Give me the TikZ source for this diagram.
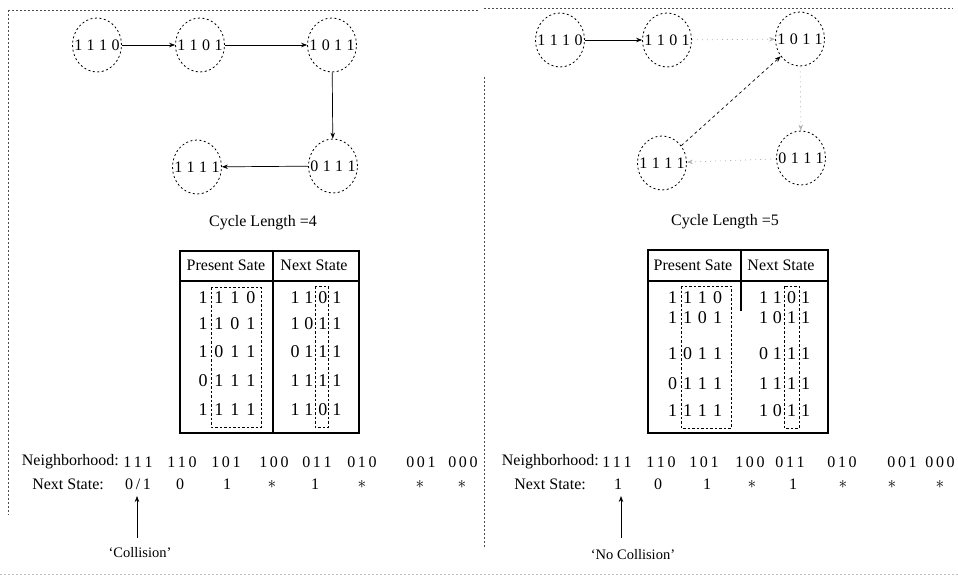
\documentclass[tikz,border=0pt]{standalone}
\usepackage{fontspec}
\setmainfont{Liberation Serif}
\usetikzlibrary{arrows.meta,shapes.geometric}
\newcommand{\bitsWide}[4]{#1\hspace{7pt}#2\hspace{7pt}#3\hspace{7pt}#4}
\newcommand{\bitsMid}[4]{#1\hspace{6pt}#2\hspace{6pt}#3\hspace{6pt}#4}
\newcommand{\bitsNarrow}[4]{#1\hspace{5pt}#2\hspace{5pt}#3\hspace{5pt}#4}
\newcommand{\stbits}[4]{\makebox[0pt]{#1\hspace{4.5pt}#2\hspace{4.5pt}#3\hspace{4.5pt}#4}}
\begin{document}
\begin{tikzpicture}[x=1pt,y=-1pt,
  state/.style={ellipse,draw,dash pattern=on 2pt off 2.5pt,line width=0.8pt,
    minimum width=49pt,minimum height=54pt,inner sep=0pt,
    font=\fontsize{16}{16}\selectfont},
  arr/.style={-{Stealth[length=6pt,width=4.5pt]},line width=0.7pt},
  faded/.style={arr,gray!60,dash pattern=on 1pt off 4pt},
  dasharr/.style={arr,dash pattern=on 3pt off 3pt},
  frameline/.style={dash pattern=on 2pt off 2pt,line width=0.7pt,black!70},
  lbl/.style={font=\fontsize{16}{16}\selectfont,inner sep=0pt},
  small/.style={font=\fontsize{14.5}{14.5}\selectfont,inner sep=0pt},
  cell/.style={font=\fontsize{18}{18}\selectfont,inner sep=0pt},
  tab/.style={line width=1.1pt},
  grp/.style={dash pattern=on 2.5pt off 2pt,line width=0.7pt}
]
\useasboundingbox (0,0) rectangle (958,578);

% frames
\draw[frameline] (8,10) -- (478,10);
\draw[frameline] (484,8) -- (953,8);
\draw[frameline] (8,10) -- (8,515);
\draw[frameline] (484,77) -- (484,547);
\draw[frameline,black!25] (0,574) -- (958,574);

% ---------- left state graph
\node[state] (a1) at (97,45) {\stbits1110};
\node[state] (a2) at (200,45) {\stbits1101};
\node[state] (a3) at (332,45) {\stbits1011};
\node[state] (a4) at (333,166) {\stbits0111};
\node[state] (a5) at (197,167) {\stbits1111};
\draw[arr] (a1) -- (a2);
\draw[arr] (a2) -- (a3);
\draw[arr] (a3) -- (a4);
\draw[arr] (a4) -- (a5);

% ---------- right state graph
\node[state] (b1) at (560,40) {\stbits1110};
\node[state] (b2) at (667,40) {\stbits1101};
\node[state] (b3) at (800,39) {\stbits1011};
\node[state] (b5) at (662,163) {\stbits1111};
\node[state] (b4) at (801,158) {\stbits0111};
\draw[arr] (b1) -- (b2);
\draw[faded] (b2) -- (b3);
\draw[faded] (b3) -- (b4);
\draw[faded] (b4) -- (b5);
\draw[dasharr] (b5) -- (b3);

% ---------- captions
\node[lbl] (cl1) at (263,223) {Cycle Length =4};
\node[lbl] (cl2) at (725,222) {Cycle Length =5};

% ---------- left table
\draw[tab] (180,251) rectangle (359,433);
\draw[tab] (180,281) -- (359,281);
\draw[tab] (273,251) -- (273,433);
\node[lbl] (ha1) at (226,265) {Present Sate};
\node[lbl] (ha2) at (314,265) {Next State};
\foreach \y/\p/\n [count=\i] in {298/{{1}{1}{1}{0}}/{{1}{1}{0}{1}},
                      324/{{1}{1}{0}{1}}/{{1}{0}{1}{1}},
                      352/{{1}{0}{1}{1}}/{{0}{1}{1}{1}},
                      381/{{0}{1}{1}{1}}/{{1}{1}{1}{1}},
                      410/{{1}{1}{1}{1}}/{{1}{1}{0}{1}}}{
  \node[cell] (pa\i) at (227,\y) {\expandafter\bitsWide\p};
  \node[cell] (na\i) at (316,\y) {\expandafter\bitsNarrow\n};
}
\draw[grp] (211,287) rectangle (261,427);
\draw[grp] (315,286) rectangle (328,427);

% ---------- right table
\draw[tab] (648,250) rectangle (828,433);
\draw[tab] (648,281) -- (828,281);
\draw[tab] (741,250) -- (741,311);
\node[lbl] (hb1) at (693,265) {Present Sate};
\node[lbl] (hb2) at (781,265) {Next State};
\foreach \y/\p/\n [count=\i] in {298/{{1}{1}{1}{0}}/{{1}{1}{0}{1}},
                      318/{{1}{1}{0}{1}}/{{1}{0}{1}{1}},
                      354/{{1}{0}{1}{1}}/{{0}{1}{1}{1}},
                      384/{{0}{1}{1}{1}}/{{1}{1}{1}{1}},
                      411/{{1}{1}{1}{1}}/{{1}{0}{1}{1}}}{
  \node[cell] (pb\i) at (695,\y) {\expandafter\bitsMid\p};
  \node[cell] (nb\i) at (784.5,\y) {\expandafter\bitsNarrow\n};
}
\draw[grp] (681,286) rectangle (731,428);
\draw[grp] (784,286) rectangle (799,428);

% ---------- left rule
\node[lbl,anchor=east] (nl1) at (119,462) {Neighborhood:};
\foreach \x/\t [count=\i] in {138/{1\,1\,1},182/{1\,1\,0},226/{1\,0\,1},274/{1\,0\,0},
                   317/{0\,1\,1},362/{0\,1\,0},421/{0\,0\,1},463/{0\,0\,0}}
  \node[lbl] (ca\i) at (\x,462) {\t};
\node[lbl,anchor=east] (sl1) at (104,484) {Next State:};
\foreach \x/\t [count=\i] in {138/{0\,/\,1},180/0,227/1,272/$\ast$,315/1,362/$\ast$,420/$\ast$,462/$\ast$}
  \node[lbl] (va\i) at (\x,484) {\t};
\node[small] (col1) at (140,553) {`Collision'};
\coordinate (ta) at (137,538);
\coordinate (tb) at (137,496);
\draw[arr] (ta) -- (tb);

% ---------- right rule
\node[lbl,anchor=east] (nl2) at (599,462) {Neighborhood:};
\foreach \x/\t [count=\i] in {617/{1\,1\,1},661/{1\,1\,0},704/{1\,0\,1},750/{1\,0\,0},
                   790/{0\,1\,1},842/{0\,1\,0},902/{0\,0\,1},940/{0\,0\,0}}
  \node[lbl] (cb\i) at (\x,462) {\t};
\node[lbl,anchor=east] (sl2) at (586,484) {Next State:};
\foreach \x/\t [count=\i] in {618/1,658/0,707/1,752/$\ast$,793/1,843/$\ast$,892/$\ast$,940/$\ast$}
  \node[lbl] (vb\i) at (\x,484) {\t};
\node[small] (col2) at (633,555) {`No Collision'};
\coordinate (tc) at (621,538);
\coordinate (td) at (621,496);
\draw[arr] (tc) -- (td);
\end{tikzpicture}
\end{document}
